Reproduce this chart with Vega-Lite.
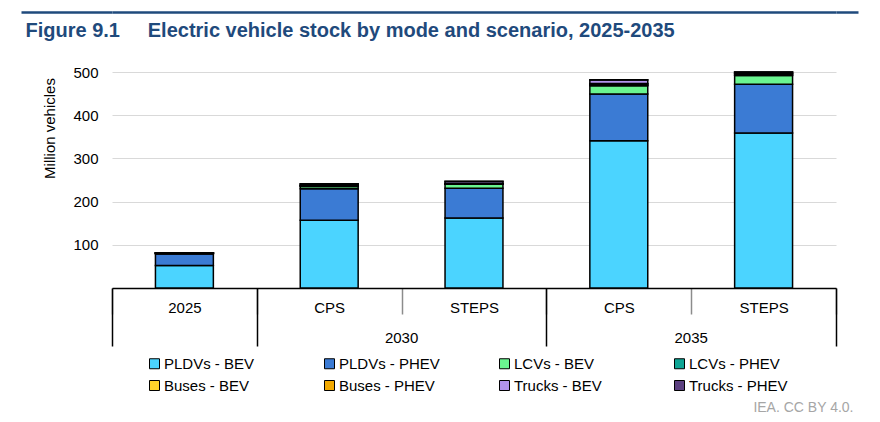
{
  "$schema": "https://vega.github.io/schema/vega-lite/v6.json",
  "description": "Figure 9.1 Electric vehicle stock by mode and scenario, 2025-2035",
  "autosize": "none",
  "padding": {"left": 112, "top": 12, "right": 44, "bottom": 134},
  "width": 724,
  "height": 276,
  "config": {
    "font": "Liberation Sans",
    "view": {"stroke": null},
    "axis": {"labelFontSize": 15, "labelColor": "black", "titleFontWeight": "normal", "grid": false}
  },
  "data": {
    "values": [
      {"bar": "2025", "mode": "PLDVs - BEV", "value": 52},
      {"bar": "2025", "mode": "PLDVs - PHEV", "value": 27},
      {"bar": "2025", "mode": "LCVs - BEV", "value": 1.2},
      {"bar": "2025", "mode": "LCVs - PHEV", "value": 0.2},
      {"bar": "2025", "mode": "Buses - BEV", "value": 0.6},
      {"bar": "2025", "mode": "Buses - PHEV", "value": 0.05},
      {"bar": "2025", "mode": "Trucks - BEV", "value": 0.3},
      {"bar": "2025", "mode": "Trucks - PHEV", "value": 0.05},
      {"bar": "2030 CPS", "mode": "PLDVs - BEV", "value": 157},
      {"bar": "2030 CPS", "mode": "PLDVs - PHEV", "value": 73},
      {"bar": "2030 CPS", "mode": "LCVs - BEV", "value": 5},
      {"bar": "2030 CPS", "mode": "LCVs - PHEV", "value": 1},
      {"bar": "2030 CPS", "mode": "Buses - BEV", "value": 1.5},
      {"bar": "2030 CPS", "mode": "Buses - PHEV", "value": 0.3},
      {"bar": "2030 CPS", "mode": "Trucks - BEV", "value": 3},
      {"bar": "2030 CPS", "mode": "Trucks - PHEV", "value": 0.3},
      {"bar": "2030 STEPS", "mode": "PLDVs - BEV", "value": 162},
      {"bar": "2030 STEPS", "mode": "PLDVs - PHEV", "value": 69},
      {"bar": "2030 STEPS", "mode": "LCVs - BEV", "value": 9},
      {"bar": "2030 STEPS", "mode": "LCVs - PHEV", "value": 0.5},
      {"bar": "2030 STEPS", "mode": "Buses - BEV", "value": 1.5},
      {"bar": "2030 STEPS", "mode": "Buses - PHEV", "value": 0.2},
      {"bar": "2030 STEPS", "mode": "Trucks - BEV", "value": 4.5},
      {"bar": "2030 STEPS", "mode": "Trucks - PHEV", "value": 0.2},
      {"bar": "2035 CPS", "mode": "PLDVs - BEV", "value": 341},
      {"bar": "2035 CPS", "mode": "PLDVs - PHEV", "value": 108},
      {"bar": "2035 CPS", "mode": "LCVs - BEV", "value": 19},
      {"bar": "2035 CPS", "mode": "LCVs - PHEV", "value": 2},
      {"bar": "2035 CPS", "mode": "Buses - BEV", "value": 2.5},
      {"bar": "2035 CPS", "mode": "Buses - PHEV", "value": 1},
      {"bar": "2035 CPS", "mode": "Trucks - BEV", "value": 8},
      {"bar": "2035 CPS", "mode": "Trucks - PHEV", "value": 0.5},
      {"bar": "2035 STEPS", "mode": "PLDVs - BEV", "value": 359},
      {"bar": "2035 STEPS", "mode": "PLDVs - PHEV", "value": 113},
      {"bar": "2035 STEPS", "mode": "LCVs - BEV", "value": 20},
      {"bar": "2035 STEPS", "mode": "LCVs - PHEV", "value": 1.5},
      {"bar": "2035 STEPS", "mode": "Buses - BEV", "value": 3},
      {"bar": "2035 STEPS", "mode": "Buses - PHEV", "value": 0.5},
      {"bar": "2035 STEPS", "mode": "Trucks - BEV", "value": 3},
      {"bar": "2035 STEPS", "mode": "Trucks - PHEV", "value": 0.2}
    ]
  },
  "transform": [
    {"calculate": "indexof(['PLDVs - BEV', 'PLDVs - PHEV', 'LCVs - BEV', 'LCVs - PHEV', 'Buses - BEV', 'Buses - PHEV', 'Trucks - BEV', 'Trucks - PHEV'], datum.mode)", "as": "ord"}
  ],
  "layer": [
    {
      "mark": {"type": "bar", "width": {"band": 0.4}, "stroke": "black", "strokeWidth": 1.5},
      "encoding": {
        "x": {
          "field": "bar",
          "type": "nominal",
          "scale": {"domain": ["2025", "2030 CPS", "2030 STEPS", "2035 CPS", "2035 STEPS"], "paddingInner": 0, "paddingOuter": 0},
          "axis": {
            "orient": "bottom",
            "title": null,
            "labelAngle": 0,
            "labelExpr": "datum.value == '2025' ? '2025' : split(datum.value, ' ')[1]",
            "labelPadding": -14,
            "domainColor": "black",
            "domainWidth": 1.5,
            "tickBand": "extent",
            "tickSize": 26,
            "tickColor": "#8c8c8c",
            "tickWidth": 1.5
          }
        },
        "y": {
          "field": "value",
          "type": "quantitative",
          "stack": "zero",
          "scale": {"domain": [0, 639], "nice": false},
          "axis": {
            "orient": "left",
            "title": "Million vehicles",
            "values": [100, 200, 300, 400, 500],
            "domain": false,
            "ticks": false,
            "grid": true,
            "gridColor": "#d9d9d9",
            "gridWidth": 1,
            "labelPadding": 14,
            "titleFontSize": 15,
            "titleColor": "black",
            "titleAngle": -90,
            "titleX": -63,
            "titleY": 116,
            "titleAlign": "center",
            "titleBaseline": "middle"
          }
        },
        "order": {"field": "ord", "type": "quantitative"},
        "color": {
          "field": "mode",
          "type": "nominal",
          "scale": {
            "domain": ["PLDVs - BEV", "PLDVs - PHEV", "LCVs - BEV", "LCVs - PHEV", "Buses - BEV", "Buses - PHEV", "Trucks - BEV", "Trucks - PHEV"],
            "range": ["#4bd4ff", "#3b7bd4", "#6af590", "#0fa595", "#ffd52a", "#f2a900", "#b293ec", "#5c4080"]
          },
          "legend": {
            "title": null,
            "orient": "none",
            "legendX": 35,
            "legendY": 344,
            "direction": "horizontal",
            "columns": 4,
            "gridAlign": "all",
            "columnPadding": 57,
            "rowPadding": 6,
            "symbolType": "square",
            "symbolSize": 100,
            "symbolStrokeColor": "black",
            "symbolStrokeWidth": 1,
            "labelOffset": 2,
            "labelFontSize": 15,
            "labelColor": "black",
            "labelLimit": 200
          }
        }
      }
    },
    {
      "mark": {"type": "point", "opacity": 0},
      "encoding": {
        "x": {
          "field": "bar",
          "type": "nominal",
          "axis": {
            "orient": "bottom",
            "title": null,
            "values": ["2025", "2030 STEPS", "2035 STEPS"],
            "tickBand": "extent",
            "tickSize": 58,
            "tickColor": "black",
            "tickWidth": 1.5,
            "labels": false,
            "domain": false
          }
        }
      }
    },
    {
      "mark": {"type": "point", "opacity": 0},
      "encoding": {
        "x": {
          "field": "bar",
          "type": "nominal",
          "axis": {
            "orient": "bottom",
            "values": ["2030 STEPS", "2035 STEPS"],
            "ticks": false,
            "domain": false,
            "labelAngle": 0,
            "labelOffset": -72.4,
            "labelExpr": "slice(datum.value, 0, 4)",
            "labelPadding": 42,
            "title": "IEA. CC BY 4.0.",
            "titleX": 741,
            "titleY": 119,
            "titleAlign": "right",
            "titleBaseline": "middle",
            "titleFontSize": 14,
            "titleColor": "#a6a6a6"
          }
        }
      }
    },
    {
      "mark": {"type": "point", "opacity": 0},
      "encoding": {
        "x": {
          "field": "bar",
          "type": "nominal",
          "axis": {
            "orient": "top",
            "labels": false,
            "ticks": false,
            "domainColor": "#1f4a7c",
            "domainWidth": 2.5,
            "title": "Figure 9.1\u00a0\u00a0\u00a0\u00a0\u00a0Electric vehicle stock by mode and scenario, 2025-2035",
            "titleX": -87,
            "titleY": 18,
            "titleAlign": "left",
            "titleBaseline": "middle",
            "titleFontSize": 20,
            "titleFontWeight": "bold",
            "titleColor": "#1f4a7c"
          }
        },
        "y": {
          "field": "value",
          "type": "quantitative",
          "axis": {
            "orient": "left",
            "title": null,
            "values": [639],
            "labels": false,
            "domain": false,
            "tickSize": 91,
            "tickColor": "#1f4a7c",
            "tickWidth": 2.5
          }
        }
      }
    },
    {
      "mark": {"type": "point", "opacity": 0},
      "encoding": {
        "y": {
          "field": "value",
          "type": "quantitative",
          "axis": {
            "orient": "right",
            "title": null,
            "values": [639],
            "labels": false,
            "domain": false,
            "tickSize": 22,
            "tickColor": "#1f4a7c",
            "tickWidth": 2.5
          }
        }
      }
    }
  ],
  "resolve": {"axis": {"x": "independent", "y": "independent"}}
}
